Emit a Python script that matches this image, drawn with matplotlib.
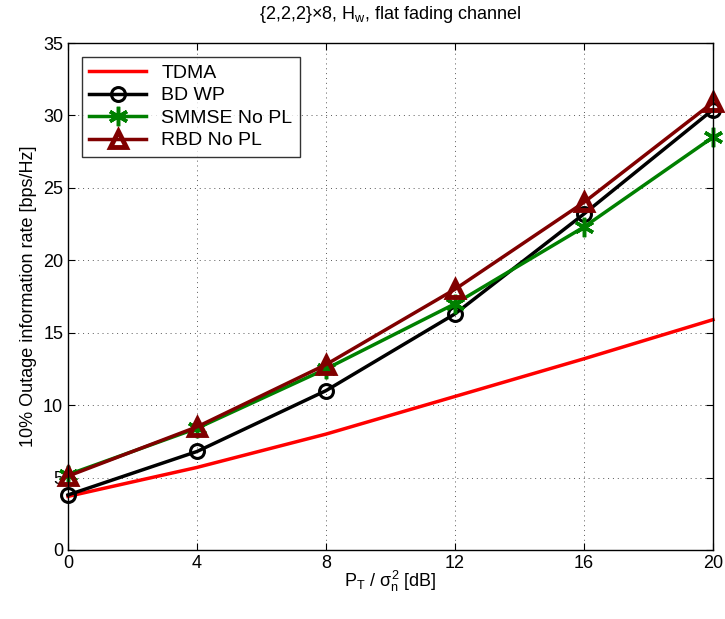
import numpy as np
import matplotlib
matplotlib.use('Agg')
import matplotlib.pyplot as plt

plt.rcParams['font.family'] = ['Liberation Sans', 'DejaVu Sans']
plt.rcParams['mathtext.fontset'] = 'custom'
plt.rcParams['mathtext.rm'] = 'Liberation Sans'
plt.rcParams['mathtext.it'] = 'Liberation Sans'

# data
snr = [0, 4, 8, 12, 16, 20]
tdma = [3.7, 5.7, 8.0, 10.6, 13.2, 15.9]
bd_wp = [3.8, 6.8, 11.0, 16.3, 23.2, 30.4]
smmse = [5.2, 8.4, 12.5, 17.0, 22.3, 28.5]
rbd = [5.1, 8.5, 12.8, 18.0, 24.0, 30.9]

fig = plt.figure(figsize=(7.25, 6.19), dpi=100)
ax = fig.add_axes([0.0938, 0.1115, 0.8896, 0.819])

ax.plot(snr, tdma, color='#ff0000', lw=2.5, label='TDMA', clip_on=False)
ax.plot(snr, bd_wp, color='black', lw=2.5, marker='o', ms=10, mfc='none',
        mew=2.2, label='BD WP', clip_on=False)
ax.plot(snr, smmse, color='#008000', lw=2.5, marker=(6, 2, 0), ms=14,
        mew=2.5, label='SMMSE No PL', clip_on=False)
ax.plot(snr, rbd, color='#800000', lw=2.5, marker='^', ms=12, mfc='none',
        mec='#800000', mew=3.5, label='RBD No PL', clip_on=False)

ax.set_xlim(0, 20)
ax.set_ylim(0, 35)
ax.set_xticks(snr)
ax.set_yticks(np.arange(0, 36, 5))
ax.tick_params(direction='in', labelsize=13, length=5, top=True, right=True)
ax.grid(True, linestyle=(0, (1, 4)), color='0.35', lw=0.7)
for s in ax.spines.values():
    s.set_linewidth(1.0)

ax.set_xlabel(r'P$_\mathrm{T}$ / $\sigma_\mathrm{n}^2$ [dB]', fontsize=13,
              labelpad=-2)
ax.set_ylabel('10% Outage information rate [bps/Hz]', fontsize=13)
ax.set_title(r'{2,2,2}$\times$8, H$_\mathrm{w}$, flat fading channel',
             fontsize=13, pad=17)

leg = ax.legend(loc='upper left', fontsize=14, frameon=True, fancybox=False,
                edgecolor='black', borderaxespad=0.7, handlelength=2.9,
                labelspacing=0.25, borderpad=0.4)
leg.get_frame().set_linewidth(1.0)

fig.savefig('out.png', dpi=100)
